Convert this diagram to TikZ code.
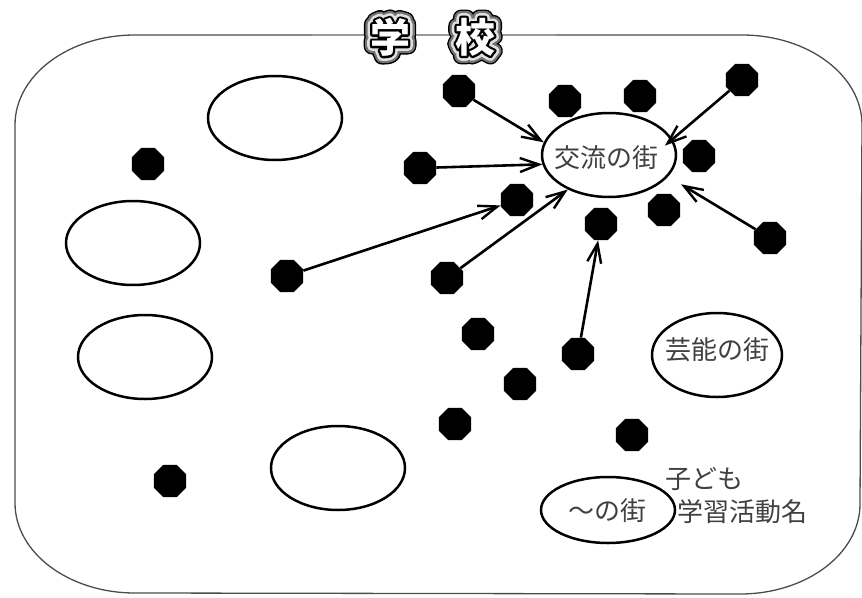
\documentclass[tikz,border=0pt]{standalone}
\usepackage{fontspec}
\newfontfamily\jp{Noto Sans CJK JP}
\newfontfamily\jpA[FakeBold=42]{Noto Sans CJK JP}
\newfontfamily\jpB[FakeBold=35]{Noto Sans CJK JP}
\newfontfamily\jpC[FakeBold=24]{Noto Sans CJK JP}
\newfontfamily\jpD[FakeBold=11]{Noto Sans CJK JP}
\usetikzlibrary{shapes.geometric,arrows.meta}
\newcommand\badgechar[3]{%
  \node[badgetxt,text=black] at (#2) {\jpA\bfseries #3};
  \node[badgetxt,text=black!55] at (#2) {\jpB\bfseries #3};
  \node[badgetxt,text=black!12] at (#2) {\jpC\bfseries #3};
  \node[badgetxt,text=black] at (#2) {\jpD\bfseries #3};
  \node[badgetxt,text=white] (#1) at (#2) {\jp\bfseries #3};
}
\begin{document}
\begin{tikzpicture}[x=1pt,y=-1pt,
  dot/.style={regular polygon,regular polygon sides=8,fill=black,draw=none,minimum size=35pt,inner sep=0pt},
  town/.style={ellipse,draw=black,line width=2.5pt,minimum width=134pt,minimum height=84pt,inner sep=0pt},
  lbl/.style={font=\jp\fontsize{26}{28}\selectfont,text=black!75,inner sep=0pt},
  badgetxt/.style={font=\fontsize{40}{40}\selectfont,inner sep=0pt,line join=round,line cap=round},
  arr/.style={line width=2.6pt,-{Straight Barb[length=19pt,width=14pt,line width=2.4pt]}},
  frame/.style={draw=black!70,line width=1.3pt}]
\useasboundingbox (0,0) rectangle (862,597);

% outer frame
\draw[frame] (135,35) -- (742,35)
  arc[start angle=-90,end angle=0,x radius=120,y radius=90] -- (860,504)
  arc[start angle=0,end angle=90,x radius=120,y radius=90] -- (135,593)
  arc[start angle=90,end angle=180,x radius=120,y radius=90] -- (15,125)
  arc[start angle=180,end angle=270,x radius=120,y radius=90];
\draw[black!40,line width=1.3pt] (312,35) -- (556,35);

% title
\badgechar{gaku}{390,37}{学}
\badgechar{kou}{475,37}{校}

% towns
\node[town] (e1) at (275,118) {};
\node[town] (e2) at (133,243) {};
\node[town] (e3) at (145,357) {};
\node[town] (e4) at (338,468) {};
\node[town] (kouryu) at (609,155) {};
\node[town,minimum width=130pt] (geinou) at (717,355) {};
\node[town,minimum height=66pt] (other) at (608,510) {};
\node[lbl] (tk) at (606,158) {交流の街};
\node[lbl] (tg) at (717,350) {芸能の街};
\node[lbl] (to) at (607,511) {～の街};
\node[lbl,anchor=west] (tc) at (665,479) {子ども};
\node[lbl,anchor=west] (ta) at (677,512) {学習活動名};

% dots
\node[dot] (d1) at (459,91) {};
\node[dot] (d2) at (565,101) {};
\node[dot] (d3) at (640,96) {};
\node[dot] (d4) at (742,80) {};
\node[dot] (d5) at (148,164) {};
\node[dot] (d6) at (420,168) {};
\node[dot] (d7) at (699,156) {};
\node[dot] (d8) at (517,200) {};
\node[dot] (d9) at (664,210) {};
\node[dot] (d10) at (601,224) {};
\node[dot] (d11) at (770,238) {};
\node[dot] (d12) at (287,276) {};
\node[dot] (d13) at (447,278) {};
\node[dot] (d14) at (478,334) {};
\node[dot] (d15) at (578,354) {};
\node[dot] (d16) at (520,384) {};
\node[dot] (d17) at (455,424) {};
\node[dot] (d18) at (632,435) {};
\node[dot] (d19) at (170,481) {};

% arrows
\draw[arr] (d1) -- (kouryu.169);
\draw[arr] (d6) -- (kouryu.188);
\draw[arr,shorten >=-10pt] (d4) -- (kouryu.14);
\draw[arr,shorten >=15pt] (d11) -- (kouryu.-20);
\draw[arr] (d12) -- (d8);
\draw[arr] (d13) -- (kouryu.220);
\draw[arr] (d15) -- (d10);
\end{tikzpicture}
\end{document}
